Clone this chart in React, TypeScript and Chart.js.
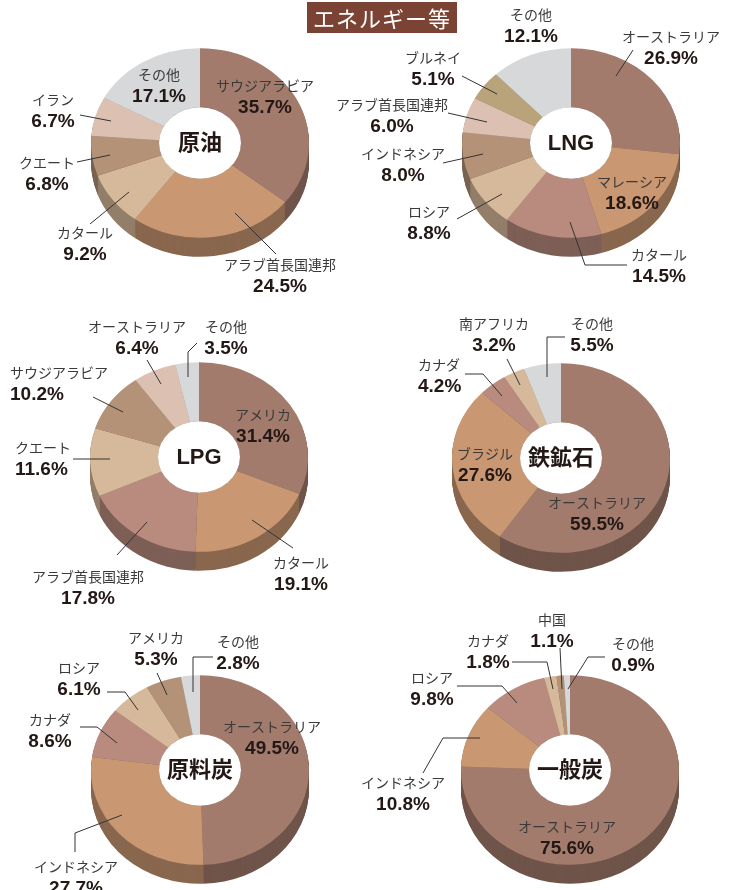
import React, { useEffect, useRef } from 'react';
import { Chart, registerables } from 'chart.js';

Chart.register(...registerables);

const W = 735;
const H = 890;
const PIE_R = 109;
const SQUASH = 0.87;
const DEPTH = 19;
const HOLE = '37.6%';
const LINE_GAP = 22;

// palette
const BROWN = '#A37B6D';
const ORANGE = '#C99872';
const ROSE = '#B88B7E';
const TAN = '#D6B99A';
const MOCHA = '#B39278';
const BLUSH = '#DCC1B2';
const OLIVE = '#B9A37A';
const GRAY = '#D7D8DA';

// ---- data ----
const PAGE_TITLE = 'エネルギー等';

const CRUDE_TITLE = '原油';
const CRUDE_LABELS = ['サウジアラビア', 'アラブ首長国連邦', 'カタール', 'クエート', 'イラン', 'その他'];
const CRUDE_VALUES = [35.7, 24.5, 9.2, 6.8, 6.7, 17.1];

const LNG_TITLE = 'LNG';
const LNG_LABELS = ['オーストラリア', 'マレーシア', 'カタール', 'ロシア', 'インドネシア', 'アラブ首長国連邦', 'ブルネイ', 'その他'];
const LNG_VALUES = [26.9, 18.6, 14.5, 8.8, 8.0, 6.0, 5.1, 12.1];

const LPG_TITLE = 'LPG';
const LPG_LABELS = ['アメリカ', 'カタール', 'アラブ首長国連邦', 'クエート', 'サウジアラビア', 'オーストラリア', 'その他'];
const LPG_VALUES = [31.4, 19.1, 17.8, 11.6, 10.2, 6.4, 3.5];

const IRON_TITLE = '鉄鉱石';
const IRON_LABELS = ['オーストラリア', 'ブラジル', 'カナダ', '南アフリカ', 'その他'];
const IRON_VALUES = [59.5, 27.6, 4.2, 3.2, 5.5];

const COKING_TITLE = '原料炭';
const COKING_LABELS = ['オーストラリア', 'インドネシア', 'カナダ', 'ロシア', 'アメリカ', 'その他'];
const COKING_VALUES = [49.5, 27.7, 8.6, 6.1, 5.3, 2.8];

const STEAM_TITLE = '一般炭';
const STEAM_LABELS = ['オーストラリア', 'インドネシア', 'ロシア', 'カナダ', '中国', 'その他'];
const STEAM_VALUES = [75.6, 10.8, 9.8, 1.8, 1.1, 0.9];

// ---- layout (label placement relative to each pie centre) ----
type LabelPos = { dx: number; dy: number; align?: 'left' | 'center'; line?: number[][] };

const CRUDE_LAYOUT: LabelPos[] = [
  { dx: 65, dy: -57 },
  { dx: 80, dy: 122, line: [[35, 70], [76, 111]] },
  { dx: -115, dy: 90, line: [[-110, 81], [-71, 49]] },
  { dx: -153, dy: 20, line: [[-123, 19], [-90, 12]] },
  { dx: -147, dy: -43, line: [[-120, -28], [-89, -22]] },
  { dx: -41, dy: -68 },
];
const LNG_LAYOUT: LabelPos[] = [
  { dx: 100, dy: -106, line: [[62, -93], [45, -67]] },
  { dx: 61, dy: 39 },
  { dx: 88, dy: 112, line: [[-1, 79], [14, 122], [56, 122]] },
  { dx: -142, dy: 69, line: [[-114, 76], [-69, 51]] },
  { dx: -168, dy: 11, line: [[-128, 20], [-88, 11]] },
  { dx: -179, dy: -38, line: [[-123, -30], [-84, -21]] },
  { dx: -138, dy: -85, line: [[-109, -67], [-74, -49]] },
  { dx: -40, dy: -128 },
];
const LPG_LAYOUT: LabelPos[] = [
  { dx: 64, dy: -42 },
  { dx: 102, dy: 106, line: [[53, 63], [94, 91]] },
  { dx: -111, dy: 120, line: [[-82, 98], [-52, 65]] },
  { dx: -184, dy: -9, align: 'left', line: [[-126, 2], [-89, 2]] },
  { dx: -189, dy: -84, align: 'left', line: [[-106, -60], [-76, -45]] },
  { dx: -62, dy: -130, line: [[-52, -97], [-38, -73]] },
  { dx: 27, dy: -130, line: [[-2, -114], [-11, -105], [-11, -80]] },
];
const IRON_LAYOUT: LabelPos[] = [
  { dx: 36, dy: 45 },
  { dx: -76, dy: -4 },
  { dx: -143, dy: -93, align: 'left', line: [[-96, -84], [-78, -84], [-59, -62]] },
  { dx: -67, dy: -134, line: [[-54, -99], [-41, -73]] },
  { dx: 31, dy: -134, line: [[4, -121], [-14, -121], [-14, -81]] },
];
const COKING_LAYOUT: LabelPos[] = [
  { dx: 72, dy: -43 },
  { dx: -124, dy: 97, line: [[-125, 82], [-125, 63], [-78, 45]] },
  { dx: -150, dy: -50, line: [[-120, -43], [-103, -43], [-83, -27]] },
  { dx: -121, dy: -102, line: [[-93, -78], [-75, -78], [-62, -60]] },
  { dx: -44, dy: -132, line: [[-43, -97], [-33, -75]] },
  { dx: 38, dy: -128, line: [[13, -113], [-7, -113], [-7, -78]] },
];
const STEAM_LAYOUT: LabelPos[] = [
  { dx: -3, dy: 57 },
  { dx: -167, dy: 13, line: [[-147, 3], [-127, -32], [-90, -32]] },
  { dx: -138, dy: -92, line: [[-113, -84], [-68, -84], [-53, -67]] },
  { dx: -82, dy: -129, line: [[-58, -108], [-23, -108], [-17, -81]] },
  { dx: -18, dy: -150, line: [[-10, -122], [-8, -81]] },
  { dx: 63, dy: -126, line: [[35, -113], [18, -113], [-2, -81]] },
];

type PieSpec = {
  title: string;
  labels: string[];
  values: number[];
  colors: string[];
  center: [number, number];
  layout: LabelPos[];
};

const PIES: PieSpec[] = [
  { title: CRUDE_TITLE, labels: CRUDE_LABELS, values: CRUDE_VALUES, colors: [BROWN, ORANGE, TAN, MOCHA, BLUSH, GRAY], center: [200, 143], layout: CRUDE_LAYOUT },
  { title: LNG_TITLE, labels: LNG_LABELS, values: LNG_VALUES, colors: [BROWN, ORANGE, ROSE, TAN, MOCHA, BLUSH, OLIVE, GRAY], center: [571, 143], layout: LNG_LAYOUT },
  { title: LPG_TITLE, labels: LPG_LABELS, values: LPG_VALUES, colors: [BROWN, ORANGE, ROSE, TAN, MOCHA, BLUSH, GRAY], center: [199, 457], layout: LPG_LAYOUT },
  { title: IRON_TITLE, labels: IRON_LABELS, values: IRON_VALUES, colors: [BROWN, ORANGE, ROSE, TAN, GRAY], center: [561, 458], layout: IRON_LAYOUT },
  { title: COKING_TITLE, labels: COKING_LABELS, values: COKING_VALUES, colors: [BROWN, ORANGE, ROSE, TAN, MOCHA, GRAY], center: [200, 770], layout: COKING_LAYOUT },
  { title: STEAM_TITLE, labels: STEAM_LABELS, values: STEAM_VALUES, colors: [BROWN, ORANGE, ROSE, TAN, MOCHA, GRAY], center: [570, 770], layout: STEAM_LAYOUT },
];

function shade(hex: string, f: number): string {
  const n = parseInt(hex.slice(1), 16);
  const r = Math.round(((n >> 16) & 255) * f);
  const g = Math.round(((n >> 8) & 255) * f);
  const b = Math.round((n & 255) * f);
  return `rgb(${r},${g},${b})`;
}

const NAME_FONT = '14px "Noto Sans CJK JP", sans-serif';
const PCT_FONT = 'bold 19px "Liberation Sans", "Noto Sans CJK JP", sans-serif';
const CENTER_FONT = 'bold 22px "Liberation Sans", "Noto Sans CJK JP", sans-serif';

const pie3d = {
  id: 'pie3d',
  beforeDatasetsDraw(chart: any) {
    const arcs = chart.getDatasetMeta(0).data as any[];
    if (!arcs.length) return;
    const ctx = chart.ctx as CanvasRenderingContext2D;
    const { x, y } = arcs[0];
    const bg = chart.data.datasets[0].backgroundColor as string[];
    ctx.save();
    ctx.translate(x, y);
    ctx.scale(1, SQUASH);
    ctx.translate(-x, -y);
    for (let d = DEPTH; d >= 1; d--) {
      const oy = y + d / SQUASH;
      arcs.forEach((a, i) => {
        ctx.beginPath();
        ctx.moveTo(x, oy);
        ctx.arc(x, oy, a.outerRadius, a.startAngle, a.endAngle);
        ctx.closePath();
        ctx.fillStyle = shade(bg[i], 0.68);
        ctx.fill();
      });
    }
  },
  afterDatasetsDraw(chart: any, _args: any, opts: any) {
    const arcs = chart.getDatasetMeta(0).data as any[];
    if (!arcs.length) return;
    const ctx = chart.ctx as CanvasRenderingContext2D;
    const { x, y, innerRadius } = arcs[0];
    ctx.beginPath();
    ctx.arc(x, y, innerRadius, 0, Math.PI * 2);
    ctx.fillStyle = '#ffffff';
    ctx.fill();
    ctx.restore();

    ctx.save();
    ctx.fillStyle = '#231815';
    ctx.font = CENTER_FONT;
    ctx.textAlign = 'center';
    ctx.textBaseline = 'middle';
    ctx.fillText(opts.title, x, y + 1);

    const labels = chart.data.labels as string[];
    const values = chart.data.datasets[0].data as number[];
    const layout = opts.layout as LabelPos[];
    layout.forEach((L, i) => {
      if (L.line) {
        ctx.beginPath();
        L.line.forEach((p, k) => {
          if (k === 0) ctx.moveTo(x + p[0], y + p[1]);
          else ctx.lineTo(x + p[0], y + p[1]);
        });
        ctx.strokeStyle = '#333';
        ctx.lineWidth = 1;
        ctx.stroke();
      }
      ctx.textAlign = L.align === 'left' ? 'left' : 'center';
      ctx.textBaseline = 'middle';
      ctx.font = NAME_FONT;
      ctx.fillStyle = '#3a3a3a';
      ctx.fillText(labels[i], x + L.dx, y + L.dy);
      ctx.font = PCT_FONT;
      ctx.fillStyle = '#231815';
      ctx.fillText(`${values[i].toFixed(1)}%`, x + L.dx, y + L.dy + LINE_GAP);
    });
    ctx.restore();
  },
};

function PieCanvas({ spec }: { spec: PieSpec }) {
  const ref = useRef<HTMLCanvasElement>(null);
  useEffect(() => {
    const [cx, cy] = spec.center;
    const chart = new Chart(ref.current as HTMLCanvasElement, {
      type: 'doughnut',
      data: {
        labels: spec.labels,
        datasets: [
          {
            data: spec.values,
            backgroundColor: spec.colors,
            borderWidth: 0,
            hoverOffset: 0,
            clip: false,
          } as any,
        ],
      },
      options: {
        responsive: false,
        animation: false,
        events: [],
        cutout: HOLE,
        radius: PIE_R,
        layout: {
          padding: {
            left: cx - PIE_R,
            right: W - cx - PIE_R,
            top: cy - PIE_R,
            bottom: H - cy - PIE_R,
          },
        },
        plugins: {
          legend: { display: false },
          tooltip: { enabled: false },
          pie3d: { title: spec.title, layout: spec.layout },
        } as any,
      },
      plugins: [pie3d as any],
    });
    return () => chart.destroy();
  }, [spec]);
  return (
    <canvas
      ref={ref}
      width={W}
      height={H}
      style={{ position: 'absolute', left: 0, top: 0, width: W, height: H }}
    />
  );
}

export default function App() {
  return (
    <div style={{ position: 'absolute', left: 0, top: 0, width: W, height: H, background: '#fff', overflow: 'hidden' }}>
      {PIES.map((p) => (
        <PieCanvas key={p.title} spec={p} />
      ))}
      <div
        style={{
          position: 'absolute',
          left: 307,
          top: 2,
          width: 150,
          height: 31,
          background: '#7B4333',
          color: '#fff',
          fontFamily: '"Noto Sans CJK JP", sans-serif',
          fontSize: 22,
          lineHeight: '31px',
          textAlign: 'center',
          letterSpacing: 1,
        }}
      >
        {PAGE_TITLE}
      </div>
    </div>
  );
}
